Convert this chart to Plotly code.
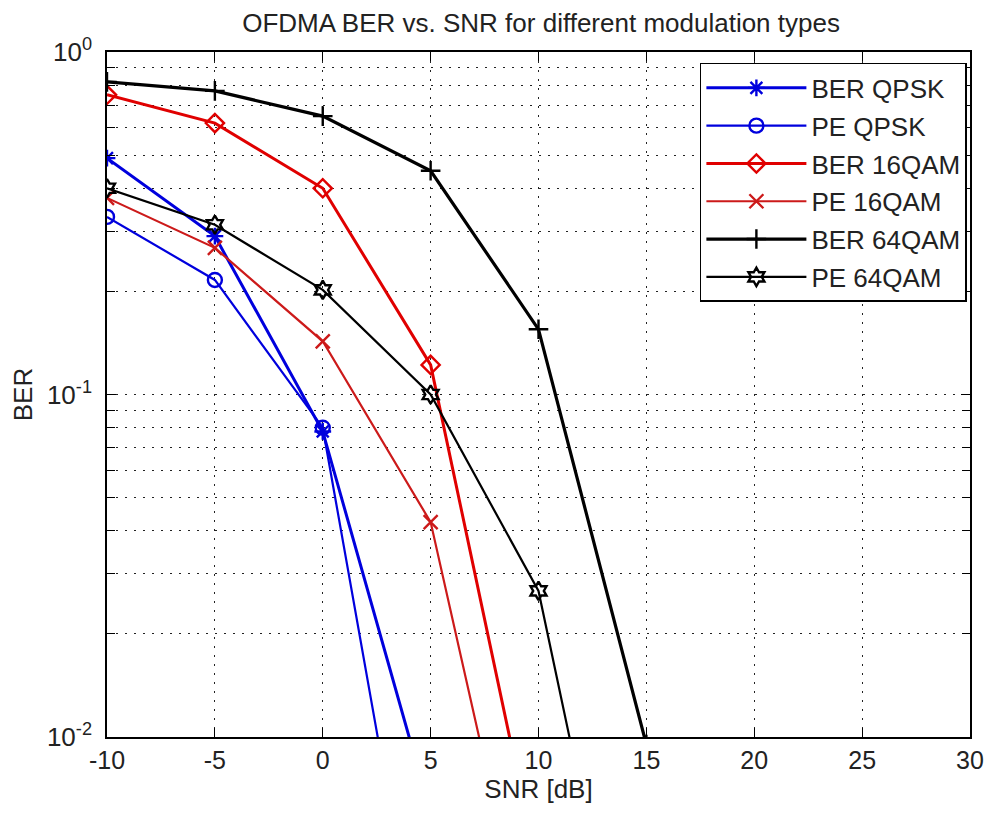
import plotly.graph_objects as go

snr = [-10, -5, 0, 5, 10, 15]
ber_qpsk = [0.49, 0.29, 0.078, 0.0060, None, None]
pe_qpsk = [0.33, 0.216, 0.080, 0.00135, None, None]
ber_16qam = [0.75, 0.62, 0.40, 0.122, 0.0040, None]
pe_16qam = [0.375, 0.268, 0.143, 0.0424, 0.0017, None]
ber_64qam = [0.818, 0.77, 0.65, 0.45, 0.155, 0.0095]
pe_64qam = [0.40, 0.313, 0.202, 0.100, 0.0267, 0.00087]

x_ticks = [-10, -5, 0, 5, 10, 15, 20, 25, 30]
x_ticktext = ["-10", "-5", "0", "5", "10", "15", "20", "25", "30"]
y_ticks = [0.01, 0.1, 1]
y_ticktext = ["10<sup>-2</sup>", "10<sup>-1</sup>", "10<sup>0</sup>"]

names = ["BER QPSK", "PE QPSK", "BER 16QAM", "PE 16QAM", "BER 64QAM", "PE 64QAM"]
series = [ber_qpsk, pe_qpsk, ber_16qam, pe_16qam, ber_64qam, pe_64qam]
colors = ["#0000dd", "#0000dd", "#e00000", "#cc1a1a", "#000000", "#000000"]
symbols = ["asterisk-open", "circle-open", "diamond-open", "x-thin-open", "cross-thin-open", "hexagram-open"]
widths = [3, 2.2, 3, 2.2, 3.2, 2.2]

FONT = "Liberation Sans, Arial, Helvetica, sans-serif"
TXT = "#222222"

fig = go.Figure()
for i, (nm, ys) in enumerate(zip(names, series)):
    fig.add_trace(go.Scatter(
        x=snr, y=ys, name=nm, mode="lines+markers",
        legendgroup=f"g{i}",
        line=dict(color=colors[i], width=widths[i]),
        marker=dict(symbol=symbols[i], size=14, color=colors[i],
                    line=dict(color=colors[i], width=2.4)),
        connectgaps=False,
    ))

minor_y = [m * 10 ** e for e in (-2, -1) for m in range(2, 10)]
grid = dict(showgrid=True, gridcolor="#222", griddash="2px,7px", gridwidth=1.4)

# the page body adds an 8px offset; figure is sized so it fits the 996x814 window
fig.update_layout(
    width=988, height=806,
    paper_bgcolor="white", plot_bgcolor="white",
    margin=dict(l=99, r=19, t=44, b=77),
    font=dict(family=FONT, size=25, color=TXT),
    title=dict(text="OFDMA BER vs. SNR for different modulation types",
               xref="paper", x=0.503, xanchor="center",
               yref="container", y=0.982, yanchor="middle",
               font=dict(family=FONT, size=26, color=TXT)),
    showlegend=True,
    legend=dict(x=0.9964, y=0.984, xanchor="right", yanchor="top",
                bgcolor="white", bordercolor="black", borderwidth=1.5,
                font=dict(family=FONT, size=26, color=TXT), tracegroupgap=1,
                itemwidth=100),
)

fig.update_xaxes(
    range=[-10, 30], tickmode="array", tickvals=x_ticks, ticktext=x_ticktext,
    ticks="inside", ticklen=9, tickcolor="black", tickwidth=1.2,
    showline=True, linecolor="black", linewidth=1.6, mirror="allticks",
    zeroline=False, **grid,
    title=dict(text="SNR [dB]", font=dict(family=FONT, size=26, color=TXT), standoff=4),
    tickfont=dict(family=FONT, size=25, color=TXT),
)
fig.update_yaxes(
    type="log", range=[-2, 0],
    tickmode="array", tickvals=y_ticks, ticktext=y_ticktext,
    ticks="inside", ticklen=9, tickcolor="black", tickwidth=1.2,
    showline=True, linecolor="black", linewidth=1.6, mirror="allticks",
    zeroline=False, **grid, ticklabelstandoff=8,
    minor=dict(tickmode="array", tickvals=minor_y, ticks="inside", ticklen=8,
               tickcolor="black", tickwidth=1.2, showgrid=True, gridcolor="#222",
               griddash="2px,7px", gridwidth=1.4),
    title=dict(text="BER", font=dict(family=FONT, size=26, color=TXT), standoff=8),
    tickfont=dict(family=FONT, size=26, color=TXT),
)

fig.write_html("out.html")
